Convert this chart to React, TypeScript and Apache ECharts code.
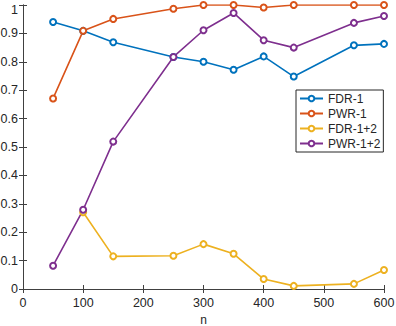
import React, { useEffect, useRef } from "react";
import * as echarts from "echarts";

const nValues = [50, 100, 150, 250, 300, 350, 400, 450, 550, 600];
const fdr1 = [0.94, 0.909, 0.869, 0.817, 0.8, 0.772, 0.819, 0.748, 0.858, 0.863];
const pwr1 = [0.671, 0.909, 0.951, 0.987, 1.0, 1.0, 0.991, 1.0, 1.0, 1.0];
const fdr12: (number | null)[] = [null, 0.27, 0.115, 0.117, 0.158, 0.124, 0.035, 0.011, 0.018, 0.067];
const pwr12 = [0.082, 0.279, 0.519, 0.817, 0.911, 0.972, 0.876, 0.85, 0.937, 0.961];

const seriesNames = ["FDR-1", "PWR-1", "FDR-1+2", "PWR-1+2"];
const seriesColors = ["#0072BD", "#D95319", "#EDB120", "#7E2F8E"];
const seriesValues: (number | null)[][] = [fdr1, pwr1, fdr12, pwr12];

const FONT = "'Liberation Sans', Arial, Helvetica, sans-serif";
const AXIS_COLOR = "#404040";
const TEXT_COLOR = "#262626";

export default function App() {
  const ref = useRef<HTMLDivElement>(null);
  useEffect(() => {
    if (!ref.current) return;
    const chart = echarts.init(ref.current, null, { renderer: "svg" });
    const axisCommon = {
      axisLine: { show: true, lineStyle: { color: AXIS_COLOR, width: 1 } },
      axisTick: { show: true, inside: true, length: 4, lineStyle: { color: AXIS_COLOR } },
      splitLine: { show: false },
    };
    chart.setOption({
      animation: false,
      backgroundColor: "#ffffff",
      grid: {
        left: 23,
        right: 12,
        top: 5,
        bottom: 37,
        containLabel: false,
        outerBoundsMode: "none",
      },
      legend: {
        orient: "vertical",
        left: 296,
        top: 90,
        data: seriesNames,
        itemWidth: 23,
        itemHeight: 7,
        itemGap: 2,
        padding: [2, 3, 2, 3],
        borderColor: "#262626",
        borderWidth: 1,
        borderRadius: 0,
        backgroundColor: "#ffffff",
        textStyle: { fontFamily: FONT, fontSize: 12, color: TEXT_COLOR, lineHeight: 13 },
      },
      xAxis: [
        {
          type: "value",
          min: 0,
          max: 600,
          interval: 100,
          name: "n",
          nameLocation: "middle",
          nameGap: 24,
          nameTextStyle: { fontFamily: FONT, fontSize: 12, color: TEXT_COLOR, lineHeight: 11 },
          axisLabel: { fontFamily: FONT, fontSize: 12.5, color: TEXT_COLOR, margin: 7 },
          ...axisCommon,
        },
        {
          type: "value",
          position: "top",
          min: 0,
          max: 600,
          interval: 100,
          axisLabel: { show: false },
          ...axisCommon,
        },
      ],
      yAxis: [
        {
          type: "value",
          min: 0,
          max: 1,
          interval: 0.1,
          axisLabel: {
            fontFamily: FONT,
            fontSize: 12.5,
            color: TEXT_COLOR,
            margin: 5,
            lineHeight: 9,
            verticalAlignMaxLabel: "top",
            formatter: (v: number) => (v === 0 ? "0" : v === 1 ? "1" : v.toFixed(1)),
          },
          ...axisCommon,
        },
        {
          type: "value",
          position: "right",
          min: 0,
          max: 1,
          interval: 0.1,
          axisLabel: { show: false },
          ...axisCommon,
        },
      ],
      series: seriesNames.map((name, i) => ({
        name,
        type: "line",
        xAxisIndex: 0,
        yAxisIndex: 0,
        data: nValues
          .map((n, j) => [n, seriesValues[i][j]])
          .filter((p) => p[1] !== null),
        color: seriesColors[i],
        symbol: "emptyCircle",
        symbolSize: 6,
        showAllSymbol: true,
        lineStyle: { width: 1.6, color: seriesColors[i] },
        itemStyle: { color: seriesColors[i], borderWidth: 1.6, borderColor: seriesColors[i] },
        emphasis: { disabled: true },
      })),
    });
    return () => chart.dispose();
  }, []);
  return (
    <div
      ref={ref}
      style={{ position: "fixed", left: 0, top: 0, width: 396, height: 326 }}
    />
  );
}
